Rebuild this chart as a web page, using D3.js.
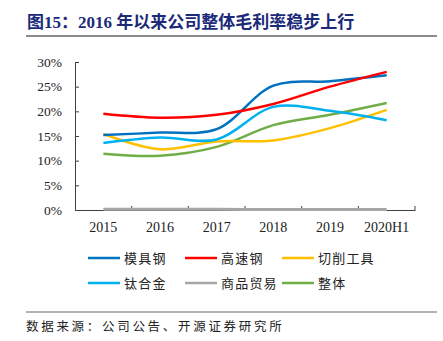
<!DOCTYPE html>
<html><head><meta charset="utf-8">
<script src="https://cdn.jsdelivr.net/npm/d3@7"></script>
<style>body{margin:0;background:#fff}svg{display:block}</style>
</head><body>
<svg id="c" width="443" height="341"></svg>
<script>
const categories = ["2015","2016","2017","2018","2019","2020H1"];
const yTicks = [0,5,10,15,20,25,30];
const seriesNames = ["模具钢","高速钢","切削工具","钛合金","商品贸易","整体"];
const moldSteel   = [15.2,15.7,16.4,25.2,26.1,27.3];
const hsSteel     = [19.5,18.7,19.3,21.5,25.0,28.0];
const cuttingTool = [15.4,12.3,13.9,14.1,16.6,20.3];
const titanium    = [13.6,14.7,14.3,20.9,20.1,18.2];
const trading     = [0.15,0.15,0.15,0.1,0.1,0.1];
const overall     = [11.4,11.0,12.8,17.2,19.3,21.7];
const colors = ["#0070C0","#FF0000","#FFC000","#00B0F0","#A6A6A6","#70AD47"];
const seriesVals = [moldSteel,hsSteel,cuttingTool,titanium,trading,overall];

const svg = d3.select("#c");
const serif = "'Liberation Serif','DejaVu Serif',serif";
const cjk = "'Noto Sans CJK SC',sans-serif";

// title
svg.append("text").attr("x",27).attr("y",28)
  .attr("font-family", serif+","+cjk).attr("font-weight","bold").attr("font-size",17)
  .attr("fill","#1c2a7a").text("图15：2016 年以来公司整体毛利率稳步上行");
svg.append("line").attr("x1",26).attr("x2",437).attr("y1",36).attr("y2",36)
  .attr("stroke","#8c8c8c").attr("stroke-width",2);

const x = d3.scaleBand().domain(categories).range([75,415]);
const y = d3.scaleLinear().domain([0,30]).range([210,62]);

// y axis
const ya = svg.append("g").attr("transform","translate(75,0)")
  .call(d3.axisLeft(y).tickValues(yTicks).tickFormat(d=>d+"%").tickSizeInner(-4).tickSizeOuter(0).tickPadding(13));
ya.select(".domain").attr("stroke","#404040");
ya.selectAll(".tick line").attr("stroke","#404040");
ya.selectAll("text").attr("font-family",serif).attr("font-size",13.5).attr("fill","#222");

// x axis
const xa = svg.append("g").attr("transform","translate(0,210)")
  .call(d3.axisBottom(x).tickSize(0).tickPadding(12));
xa.select(".domain").attr("stroke","#404040");
xa.selectAll("text").attr("font-family",serif).attr("font-size",14).attr("fill","#222");
// boundary ticks pointing up
const bounds = categories.map(c=>x(c)+x.bandwidth());
svg.append("g").selectAll("line").data(bounds).join("line")
  .attr("x1",d=>d).attr("x2",d=>d).attr("y1",210).attr("y2",206)
  .attr("stroke","#404040");

// lines
const line = d3.line().x((d,i)=>x(categories[i])+x.bandwidth()/2).y(d=>y(d))
  .curve(d3.curveCatmullRom.alpha(0.5));
const order = [4,5,2,3,0,1];
order.forEach(k=>{
  svg.append("path").attr("d",line(seriesVals[k])).attr("fill","none")
    .attr("stroke",colors[k]).attr("stroke-width", k===4?3:2.5);
});

// legend
const legX = [88,185,282], legY=[258,283];
seriesNames.forEach((n,i)=>{
  const lx = legX[i%3], ly = legY[Math.floor(i/3)];
  svg.append("line").attr("x1",lx).attr("x2",lx+32).attr("y1",ly).attr("y2",ly)
    .attr("stroke",colors[i]).attr("stroke-width",2.5);
  svg.append("text").attr("x",lx+36).attr("y",ly+5).attr("font-family",cjk)
    .attr("font-size",13).attr("letter-spacing",1.2).attr("fill","#222").text(n);
});

// source
svg.append("line").attr("x1",26).attr("x2",437).attr("y1",312).attr("y2",312)
  .attr("stroke","#666").attr("stroke-width",1);
svg.append("text").attr("x",26).attr("y",331).attr("font-family",cjk)
  .attr("font-size",12.5).attr("letter-spacing",2.7).attr("fill","#222").text("数据来源：公司公告、开源证券研究所");
</script>
</body></html>
